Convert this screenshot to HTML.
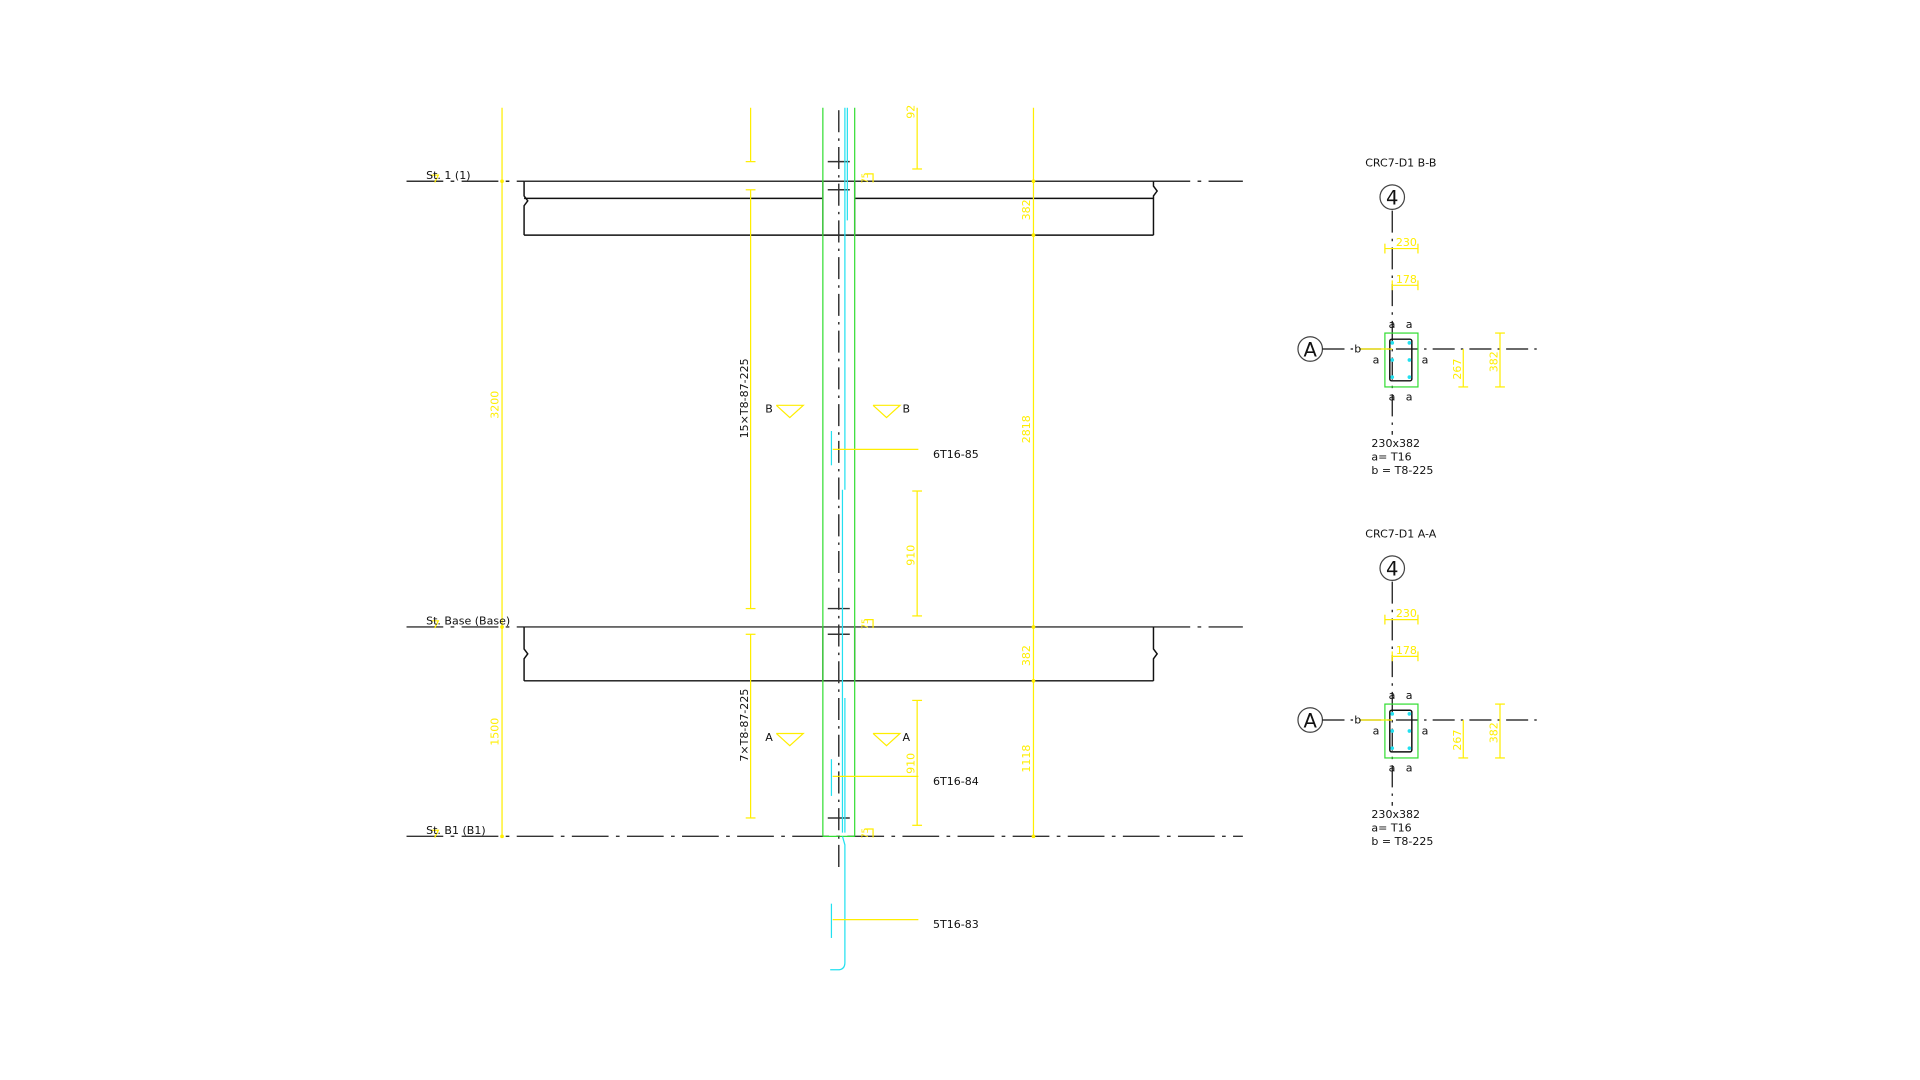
<!DOCTYPE html>
<html><head><meta charset="utf-8"><style>
html,body{margin:0;padding:0;background:#fff;width:1920px;height:1080px;overflow:hidden}
svg{display:block}
text{font-family:"DejaVu Sans","Liberation Sans",sans-serif}
</style></head><body>
<svg width="1920" height="1080" viewBox="0 0 1568 882" preserveAspectRatio="none" xmlns="http://www.w3.org/2000/svg">
<g fill="none" stroke-width="1">
<g stroke="#333" stroke-width="1.2">
<line x1="332" y1="148" x2="428" y2="148" stroke-dasharray="30,6,3,6"/>
<line x1="428" y1="148" x2="942" y2="148"/>
<line x1="942" y1="148" x2="1015" y2="148" stroke-dasharray="30,6,3,6"/>
<line x1="332" y1="512" x2="428" y2="512" stroke-dasharray="30,6,3,6"/>
<line x1="428" y1="512" x2="942" y2="512"/>
<line x1="942" y1="512" x2="1015" y2="512" stroke-dasharray="30,6,3,6"/>
<line x1="332" y1="683" x2="1015" y2="683" stroke-dasharray="30,6,3,6"/>
</g>
<g stroke="#111" stroke-width="1.2">
<line x1="428" y1="162" x2="672" y2="162"/><line x1="698" y1="162" x2="942" y2="162"/>
<line x1="428" y1="192" x2="942" y2="192"/>
<polyline points="428,148 428,160 431,164 428,168 428,192"/>
<polyline points="942,148 942,152 945,156 942,160 942,192"/>
<line x1="428" y1="556" x2="942" y2="556"/>
<polyline points="428,512 428,530 431,534 428,538 428,556"/>
<polyline points="942,512 942,530 945,534 942,538 942,556"/>
<line x1="672" y1="148" x2="672" y2="192" stroke="#555"/><line x1="698" y1="148" x2="698" y2="192" stroke="#555"/>
<line x1="672" y1="512" x2="672" y2="556" stroke="#555"/><line x1="698" y1="512" x2="698" y2="556" stroke="#555"/>
</g>
<g stroke="#33dd33">
<line x1="672" y1="88" x2="672" y2="683"/><line x1="698" y1="88" x2="698" y2="683"/>
<line x1="672" y1="683" x2="698" y2="683"/>
</g>
<line x1="685" y1="90" x2="685" y2="712" stroke="#333" stroke-width="1.2" stroke-dasharray="18,5,2,5"/>
<g stroke="#333" stroke-width="1.2">
<line x1="676" y1="132" x2="694" y2="132"/><line x1="676" y1="155" x2="694" y2="155"/>
<line x1="676" y1="497" x2="694" y2="497"/><line x1="676" y1="518" x2="694" y2="518"/>
<line x1="676" y1="668" x2="694" y2="668"/>
</g>
<g stroke="#22e0f0">
<line x1="690" y1="88" x2="690" y2="400"/><line x1="692" y1="88" x2="692" y2="180"/>
<line x1="688" y1="400" x2="688" y2="680"/><line x1="690" y1="570" x2="690" y2="680"/>
<path d="M688,683 L690,690 L690,786 Q690,792 684,792 L678,792"/>
<line x1="679" y1="352" x2="679" y2="380"/><line x1="679" y1="620" x2="679" y2="650"/><line x1="679" y1="738" x2="679" y2="766"/>
</g>
<g stroke="#ffee00">
<line x1="410" y1="88" x2="410" y2="683"/>
<line x1="844" y1="88" x2="844" y2="683"/>
<line x1="613" y1="88" x2="613" y2="132"/><line x1="609" y1="132" x2="617" y2="132"/>
<line x1="613" y1="155" x2="613" y2="497"/><line x1="609" y1="155" x2="617" y2="155"/><line x1="609" y1="497" x2="617" y2="497"/>
<line x1="613" y1="518" x2="613" y2="668"/><line x1="609" y1="518" x2="617" y2="518"/><line x1="609" y1="668" x2="617" y2="668"/>
<line x1="749" y1="88" x2="749" y2="138"/><line x1="745" y1="138" x2="753" y2="138"/>
<line x1="749" y1="401" x2="749" y2="503"/><line x1="745" y1="401" x2="753" y2="401"/><line x1="745" y1="503" x2="753" y2="503"/>
<line x1="749" y1="572" x2="749" y2="674"/><line x1="745" y1="572" x2="753" y2="572"/><line x1="745" y1="674" x2="753" y2="674"/>
<line x1="680" y1="367" x2="750" y2="367"/><line x1="680" y1="634" x2="750" y2="634"/><line x1="680" y1="751" x2="750" y2="751"/>
<polyline points="634,331 656,331 645,341 634,331"/><polyline points="713,331 735,331 724,341 713,331"/>
<polyline points="634,599 656,599 645,609 634,599"/><polyline points="713,599 735,599 724,609 713,599"/>
<polyline points="706,142 713,142 713,149"/><polyline points="706,506 713,506 713,513"/><polyline points="706,677 713,677 713,684"/>
<polyline points="352,143 358,143 355,149"/><polyline points="352,507 358,507 355,513"/><polyline points="352,678 358,678 355,684"/>
</g>
<g fill="#ffee00" stroke="none">
<circle cx="844" cy="148" r="1.5"/><circle cx="844" cy="192" r="1.5"/><circle cx="844" cy="512" r="1.5"/><circle cx="844" cy="556" r="1.5"/><circle cx="844" cy="683" r="1.5"/>
<circle cx="410" cy="148" r="1.5"/><circle cx="410" cy="512" r="1.5"/><circle cx="410" cy="683" r="1.5"/>
</g>
</g>
<g font-size="9" fill="#111">
<text x="348" y="146">St. 1 (1)</text>
<text x="348" y="510">St. Base (Base)</text>
<text x="348" y="681">St. B1 (B1)</text>
<text x="625" y="337">B</text><text x="737" y="337">B</text>
<text x="625" y="605">A</text><text x="737" y="605">A</text>
<text x="762" y="374">6T16-85</text>
<text x="762" y="641">6T16-84</text>
<text x="762" y="758">5T16-83</text>
<text transform="translate(611,358) rotate(-90)">15×T8-87-225</text>
<text transform="translate(611,622) rotate(-90)">7×T8-87-225</text>
</g>
<g font-size="9" fill="#ffee00">
<text transform="translate(407,342) rotate(-90)">3200</text>
<text transform="translate(407,609) rotate(-90)">1500</text>
<text transform="translate(841,180) rotate(-90)">382</text>
<text transform="translate(841,362) rotate(-90)">2818</text>
<text transform="translate(841,544) rotate(-90)">382</text>
<text transform="translate(841,631) rotate(-90)">1118</text>
<text transform="translate(747,97) rotate(-90)">92</text>
<text transform="translate(747,462) rotate(-90)">910</text>
<text transform="translate(747,632) rotate(-90)">910</text>
<text transform="translate(709,150) rotate(-90)" font-size="7">75</text>
<text transform="translate(709,514) rotate(-90)" font-size="7">75</text>
<text transform="translate(709,685) rotate(-90)" font-size="7">75</text>
</g>

<g id="sec">
<text x="1144" y="136" font-size="9" fill="#111" text-anchor="middle">CRC7-D1 B-B</text>
<circle cx="1137" cy="161" r="10" fill="none" stroke="#444"/>
<text x="1137" y="167" font-size="16" fill="#111" text-anchor="middle">4</text>
<circle cx="1070" cy="285" r="10" fill="none" stroke="#444"/>
<text x="1070" y="291" font-size="16" fill="#111" text-anchor="middle">A</text>
<g fill="none" stroke="#111">
<line x1="1137" y1="172" x2="1137" y2="355" stroke-dasharray="18,5,2,5"/>
<line x1="1080" y1="285" x2="1258" y2="285" stroke-dasharray="18,5,2,5"/>
<rect x="1135" y="277" width="18" height="34" rx="1.5" stroke-width="1.2"/>
</g>
<rect x="1131" y="272" width="27" height="44" fill="none" stroke="#33dd33"/>
<line x1="1110" y1="285" x2="1137" y2="285" stroke="#ffee00"/>
<g fill="#22e0f0"><circle cx="1137" cy="280" r="1.5"/><circle cx="1151" cy="280" r="1.5"/><circle cx="1137" cy="294" r="1.5"/><circle cx="1151" cy="294" r="1.5"/><circle cx="1137" cy="308" r="1.5"/><circle cx="1151" cy="308" r="1.5"/></g>
<g stroke="#ffee00" fill="none">
<line x1="1131" y1="203" x2="1158" y2="203"/><line x1="1131" y1="199" x2="1131" y2="207"/><line x1="1158" y1="199" x2="1158" y2="207"/>
<line x1="1137" y1="233" x2="1158" y2="233"/><line x1="1137" y1="229" x2="1137" y2="237"/><line x1="1158" y1="229" x2="1158" y2="237"/>
<line x1="1195" y1="285" x2="1195" y2="316"/><line x1="1191" y1="316" x2="1199" y2="316"/>
<line x1="1225" y1="272" x2="1225" y2="316"/><line x1="1221" y1="272" x2="1229" y2="272"/><line x1="1221" y1="316" x2="1229" y2="316"/>
</g>
<g font-size="9" fill="#ffee00">
<text x="1140" y="201">230</text><text x="1140" y="231">178</text>
<text transform="translate(1193,310) rotate(-90)">267</text>
<text transform="translate(1223,304) rotate(-90)">382</text>
</g>
<g font-size="9" fill="#111">
<text x="1134" y="268">a</text><text x="1148" y="268">a</text>
<text x="1134" y="327">a</text><text x="1148" y="327">a</text>
<text x="1121" y="297">a</text><text x="1161" y="297">a</text>
<text x="1106" y="288">b</text>
<text x="1120" y="365">230x382</text>
<text x="1120" y="376">a= T16</text>
<text x="1120" y="387">b = T8-225</text>
</g>
</g>
<g transform="translate(0,303)">
<use href="#sec"/>
</g>
<rect x="1100" y="428" width="90" height="12" fill="#fff"/>
<text x="1144" y="439" font-size="9" fill="#111" text-anchor="middle">CRC7-D1 A-A</text>
</svg>
</body></html>
